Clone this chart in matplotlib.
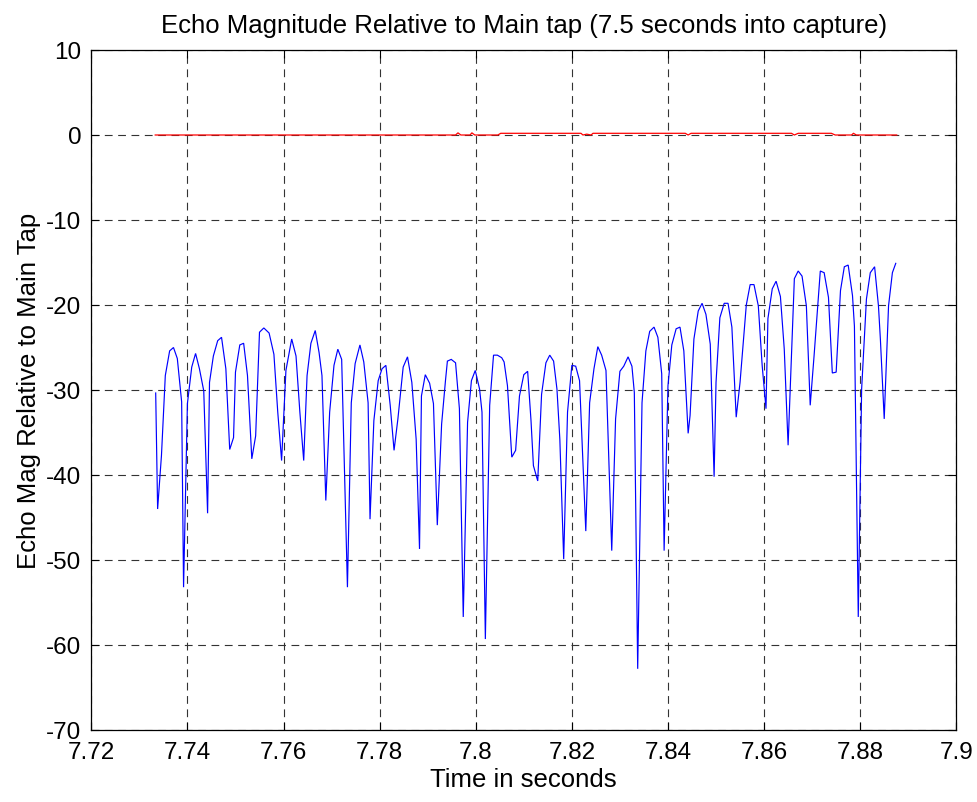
import matplotlib
matplotlib.use("Agg")
import matplotlib.pyplot as plt
import numpy as np

# ---- data ----
blue_t = [7.7334, 7.7338, 7.7346, 7.7354, 7.7363, 7.7371, 7.7379, 7.7388, 7.7392, 7.7400,
          7.7409, 7.7417, 7.7425, 7.7434, 7.7442, 7.7446, 7.7454, 7.7463, 7.7471, 7.7480,
          7.7488, 7.7496, 7.7500, 7.7509, 7.7517, 7.7525, 7.7534, 7.7542, 7.7550, 7.7559,
          7.7570, 7.7580, 7.7588, 7.7596, 7.7605, 7.7617, 7.7626, 7.7634, 7.7642,
          7.7649, 7.7657, 7.7666, 7.7674, 7.7680, 7.7688, 7.7696, 7.7705, 7.7713, 7.7721,
          7.7733, 7.7741, 7.7749, 7.7759, 7.7767, 7.7776, 7.7780, 7.7788, 7.7797, 7.7805,
          7.7813, 7.7822, 7.7830, 7.7838, 7.7849, 7.7858, 7.7867, 7.7876, 7.7883, 7.7887,
          7.7895, 7.7904, 7.7912, 7.7920, 7.7929, 7.7937, 7.7941, 7.7949, 7.7958, 7.7966, 7.7974,
          7.7983, 7.7991, 7.7999, 7.8008, 7.8013, 7.8020, 7.8029, 7.8037, 7.8045, 7.8054,
          7.8059, 7.8066, 7.8075, 7.8083, 7.8091, 7.8100, 7.8108, 7.8115, 7.8120, 7.8129,
          7.8137, 7.8146, 7.8154, 7.8162, 7.8169, 7.8175, 7.8183, 7.8191, 7.8200, 7.8208,
          7.8216, 7.8229, 7.8237, 7.8246, 7.8254, 7.8262, 7.8271, 7.8283, 7.8291, 7.8300,
          7.8308, 7.8317,
          7.8325, 7.8330, 7.8337, 7.8346, 7.8354, 7.8362, 7.8371, 7.8379, 7.8387, 7.8392,
          7.8400, 7.8408, 7.8417, 7.8425, 7.8433, 7.8442, 7.8446, 7.8454, 7.8463, 7.8471,
          7.8479, 7.8488, 7.8496, 7.8500, 7.8508, 7.8517, 7.8525, 7.8533, 7.8542, 7.8550,
          7.8563, 7.8571, 7.8579, 7.8588, 7.8596, 7.8604, 7.8608, 7.8617, 7.8625, 7.8634,
          7.8642, 7.8650,
          7.8663, 7.8671, 7.8679, 7.8688, 7.8696, 7.8704, 7.8717, 7.8725, 7.8734, 7.8742,
          7.8750, 7.8759, 7.8767, 7.8775, 7.8784, 7.8788, 7.8796, 7.8803, 7.8813, 7.8821,
          7.8830, 7.8838, 7.8842, 7.8850, 7.8859, 7.8867, 7.8874]

blue_db = [-30.35, -44.0, -37.7, -28.3, -25.4, -25.0, -26.3, -31.4, -53.2, -31.6,
           -27.3, -25.7, -27.5, -30.1, -44.5, -29.1, -26.0, -24.2, -23.8, -27.5,
           -37.0, -35.6, -27.9, -24.7, -24.5, -28.3, -38.1, -35.4, -23.2, -22.7,
           -23.3, -25.8, -32.6, -38.3, -27.7, -24.0, -26.0, -32.6, -38.3,
           -28.3, -24.5, -23.0, -25.6, -28.3, -43.0, -32.6, -27.1, -25.2, -26.4,
           -53.2, -31.5, -26.9, -24.7, -26.7, -31.5, -45.2, -33.6, -28.9, -27.5,
           -27.1, -31.8, -37.1, -33.4, -27.3, -26.1, -29.1, -35.8, -48.7, -30.7,
           -28.2, -29.2, -31.6, -45.9, -34.0, -28.9, -26.6, -26.4, -26.8, -32.2, -56.7,
           -33.8, -28.9, -27.7, -29.9, -32.6, -59.3, -31.8, -25.9, -25.9, -26.2,
           -26.7, -29.5, -37.9, -37.1, -30.7, -28.2, -27.8, -33.6, -38.9, -40.7,
           -30.5, -26.8, -25.9, -26.6, -29.9, -35.8, -49.9, -32.6, -27.1, -27.2,
           -28.9, -46.6, -31.5, -27.5, -24.9, -25.9, -27.7, -48.9, -33.4, -27.8,
           -27.2, -26.1,
           -27.2, -30.3, -62.8, -31.5, -25.4, -23.1, -22.6, -23.8, -28.1, -48.9,
           -29.5, -24.7, -22.8, -22.6, -25.4, -35.1, -33.0, -24.0, -20.7, -19.8,
           -21.1, -24.6, -40.2, -29.1, -21.5, -19.8, -19.8, -22.6, -33.2, -29.1,
           -20.0, -17.6, -17.6, -20.1, -27.1, -32.2, -21.6, -18.1, -17.2, -19.0,
           -25.2, -36.5,
           -16.9, -16.0, -16.6, -20.1, -31.8, -26.0, -16.0, -16.2, -19.1, -28.0,
           -27.9, -18.3, -15.5, -15.3, -18.9, -22.5, -56.7, -29.9, -19.3, -16.2,
           -15.5, -20.1, -24.0, -33.4, -20.1, -16.2, -15.1]

red_t = [7.7333, 7.7958, 7.7963, 7.7969, 7.7988, 7.7992, 7.7998, 7.8046, 7.8052,
         7.8219, 7.8223, 7.8231, 7.8240, 7.8244, 7.8436, 7.8442, 7.8448, 7.8657,
         7.8663, 7.8671, 7.8740, 7.8748, 7.8782, 7.8786, 7.8792, 7.8876]
red_db = [0.0, 0.0, 0.25, 0.0, 0.0, 0.25, 0.0, 0.0, 0.2,
          0.2, 0.0, 0.1, 0.0, 0.2, 0.2, 0.0, 0.2, 0.2,
          0.0, 0.2, 0.2, 0.0, 0.0, 0.2, 0.0, 0.0]

x_ticks = [7.72, 7.74, 7.76, 7.78, 7.80, 7.82, 7.84, 7.86, 7.88, 7.90]
x_tick_labels = ["7.72", "7.74", "7.76", "7.78", "7.8", "7.82", "7.84", "7.86", "7.88", "7.9"]
y_ticks = [-70, -60, -50, -40, -30, -20, -10, 0, 10]
y_tick_labels = ["-70", "-60", "-50", "-40", "-30", "-20", "-10", "0", "10"]

title = "Echo Magnitude Relative to Main tap (7.5 seconds into capture)"
xlabel = "Time in seconds"
ylabel = "Echo Mag Relative to Main Tap"

assert len(blue_t) == len(blue_db)
assert len(red_t) == len(red_db)

# ---- plot ----
plt.rcParams['font.family'] = ['Liberation Sans', 'DejaVu Sans']
plt.rcParams['axes.unicode_minus'] = False

fig = plt.figure(figsize=(9.77, 8.03), dpi=100, facecolor='white')
ax = fig.add_axes([91.3 / 977, 1 - 731 / 803, (956.3 - 91.3) / 977, 680 / 803])

ax.plot(blue_t, blue_db, color='#0000ff', linewidth=0.85, solid_joinstyle='miter')
ax.plot(red_t, red_db, color='#ff0000', linewidth=0.9)

ax.set_xlim(7.72, 7.90)
ax.set_ylim(-70, 10)
ax.set_xticks(x_ticks)
ax.set_xticklabels(x_tick_labels)
ax.set_yticks(y_ticks)
ax.set_yticklabels(y_tick_labels)

ax.grid(True, color='0.2', linestyle=(0, (7, 5)), linewidth=0.8)
ax.tick_params(direction='in', length=6, width=0.8, top=True, right=True,
               labelsize=17.5, pad=7)
ax.tick_params(axis='x', pad=8)
for s in ax.spines.values():
    s.set_linewidth(0.9)
    s.set_color('black')

ax.set_title(title, fontsize=18.5, pad=13)
ax.set_xlabel(xlabel, fontsize=18.5, labelpad=3)
ax.set_ylabel(ylabel, fontsize=18.5, labelpad=4)

fig.savefig("out.png", dpi=100, facecolor='white')
